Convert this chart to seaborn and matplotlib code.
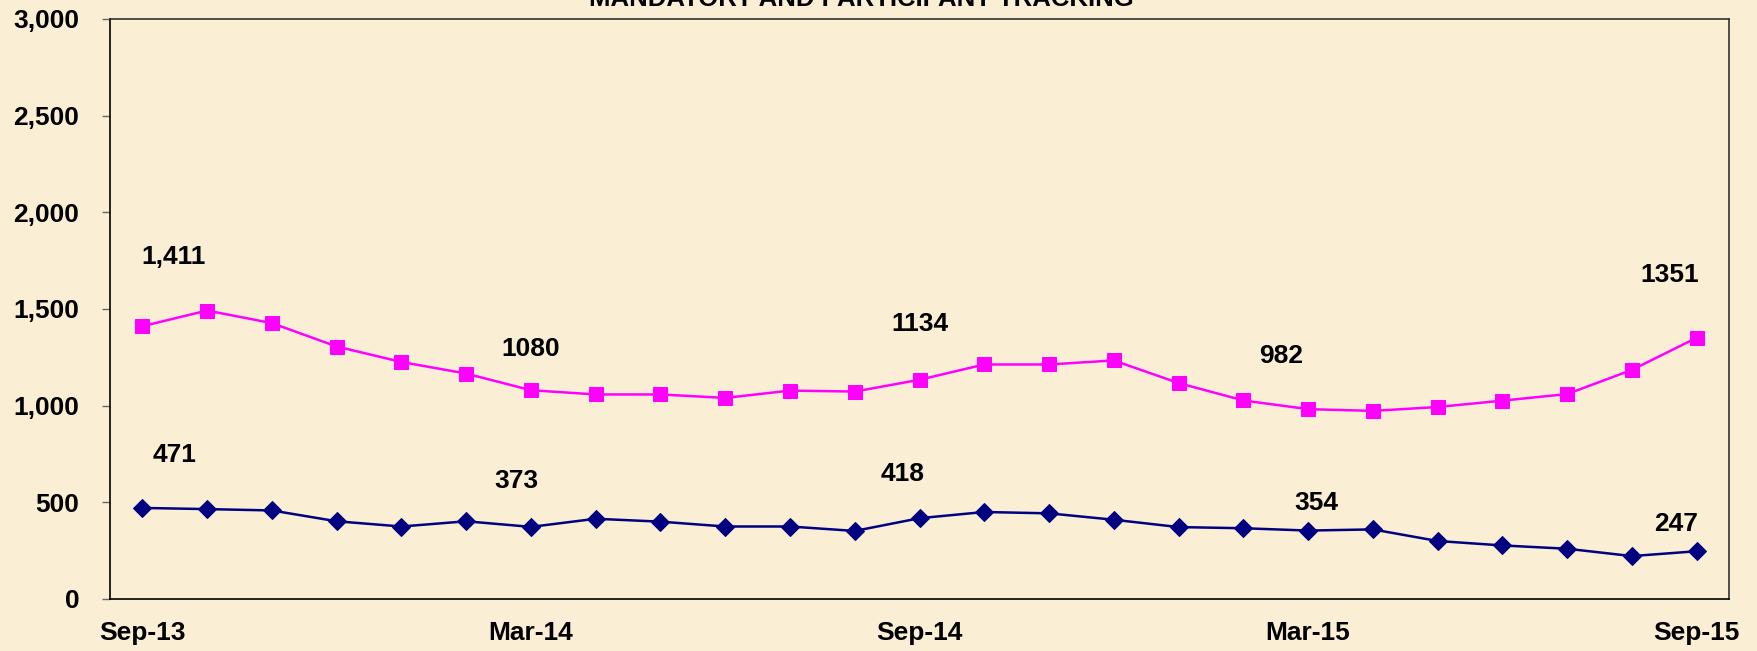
import pandas as pd
import seaborn as sns
import matplotlib.pyplot as plt
import matplotlib.ticker as mtick

# Monthly series, Sep-13 .. Sep-15
months = ["Sep-13", "Oct-13", "Nov-13", "Dec-13", "Jan-14", "Feb-14", "Mar-14",
          "Apr-14", "May-14", "Jun-14", "Jul-14", "Aug-14", "Sep-14", "Oct-14",
          "Nov-14", "Dec-14", "Jan-15", "Feb-15", "Mar-15", "Apr-15", "May-15",
          "Jun-15", "Jul-15", "Aug-15", "Sep-15"]
participants = [1411, 1492, 1427, 1306, 1226, 1166, 1080, 1058, 1058, 1040, 1078, 1073,
                1134, 1213, 1213, 1234, 1117, 1027, 982, 973, 993, 1026, 1060, 1185, 1351]
mandatory = [471, 465, 458, 402, 375, 402, 373, 415, 400, 375, 375, 352,
             418, 450, 443, 410, 372, 366, 354, 360, 300, 277, 260, 222, 247]
shown_months = ["Sep-13", "Mar-14", "Sep-14", "Mar-15", "Sep-15"]

# labelled points: (series, month, text, x offset px, y offset px)
callouts = [
    ("participants", "Sep-13", "1,411", 31, 69),
    ("participants", "Mar-14", "1080", 0, 41),
    ("participants", "Sep-14", "1134", 0, 56),
    ("participants", "Mar-15", "982", -27, 53),
    ("participants", "Sep-15", "1351", -27, 63),
    ("mandatory", "Sep-13", "471", 32, 53),
    ("mandatory", "Mar-14", "373", -15, 46),
    ("mandatory", "Sep-14", "418", -17, 44),
    ("mandatory", "Mar-15", "354", 8, 28),
    ("mandatory", "Sep-15", "247", -21, 27),
]

df = pd.DataFrame({"month": months, "participants": participants, "mandatory": mandatory})
df["idx"] = range(len(df))

bg = "#FAEFD4"
plt.rcParams["font.family"] = ["Liberation Sans", "DejaVu Sans"]
plt.rcParams["font.weight"] = "bold"

fig = plt.figure(figsize=(17.57, 6.51), dpi=100, facecolor=bg)
ax = fig.add_axes([110 / 1757, 52 / 651, 1619 / 1757, 580 / 651])
ax.set_facecolor(bg)

sns.lineplot(data=df, x="idx", y="participants", ax=ax, color="#FF00FF",
             marker="s", markersize=10.5, markeredgecolor="#FF00FF", linewidth=1.8)
sns.lineplot(data=df, x="idx", y="mandatory", ax=ax, color="#000080",
             marker="D", markersize=9.5, markeredgecolor="#000080", linewidth=1.8)

for series, month, text, dx, dy in callouts:
    i = months.index(month)
    ax.annotate(text, (i, df[series][i]), xytext=(dx, dy), textcoords="offset pixels",
                ha="center", va="center", fontsize=19, fontweight="bold", color="black")

ax.set_xlim(-0.5, len(months) - 0.5)
ax.set_ylim(0, 3000)
ax.set_xticks([months.index(m) for m in shown_months])
ax.set_xticklabels(shown_months)
ax.set_yticks(range(0, 3001, 500))
ax.yaxis.set_major_formatter(mtick.FuncFormatter(lambda v, _: f"{v:,.0f}"))
ax.tick_params(axis="x", length=0, pad=16, labelsize=19)
ax.tick_params(axis="y", length=6, width=1, color="#666666", pad=16, labelsize=19)
ax.set_xlabel("")
ax.set_ylabel("")
for side in ["left", "bottom"]:
    ax.spines[side].set_color("black")
    ax.spines[side].set_linewidth(1.2)
for side in ["top", "right"]:
    ax.spines[side].set_color("#333333")
    ax.spines[side].set_linewidth(1.2)

fig.text(861 / 1757, 645 / 651, "MANDATORY AND PARTICIPANT TRACKING", ha="center",
         va="baseline", fontsize=18.5, fontweight="bold")

fig.savefig("out.png", dpi=100, facecolor=bg)
